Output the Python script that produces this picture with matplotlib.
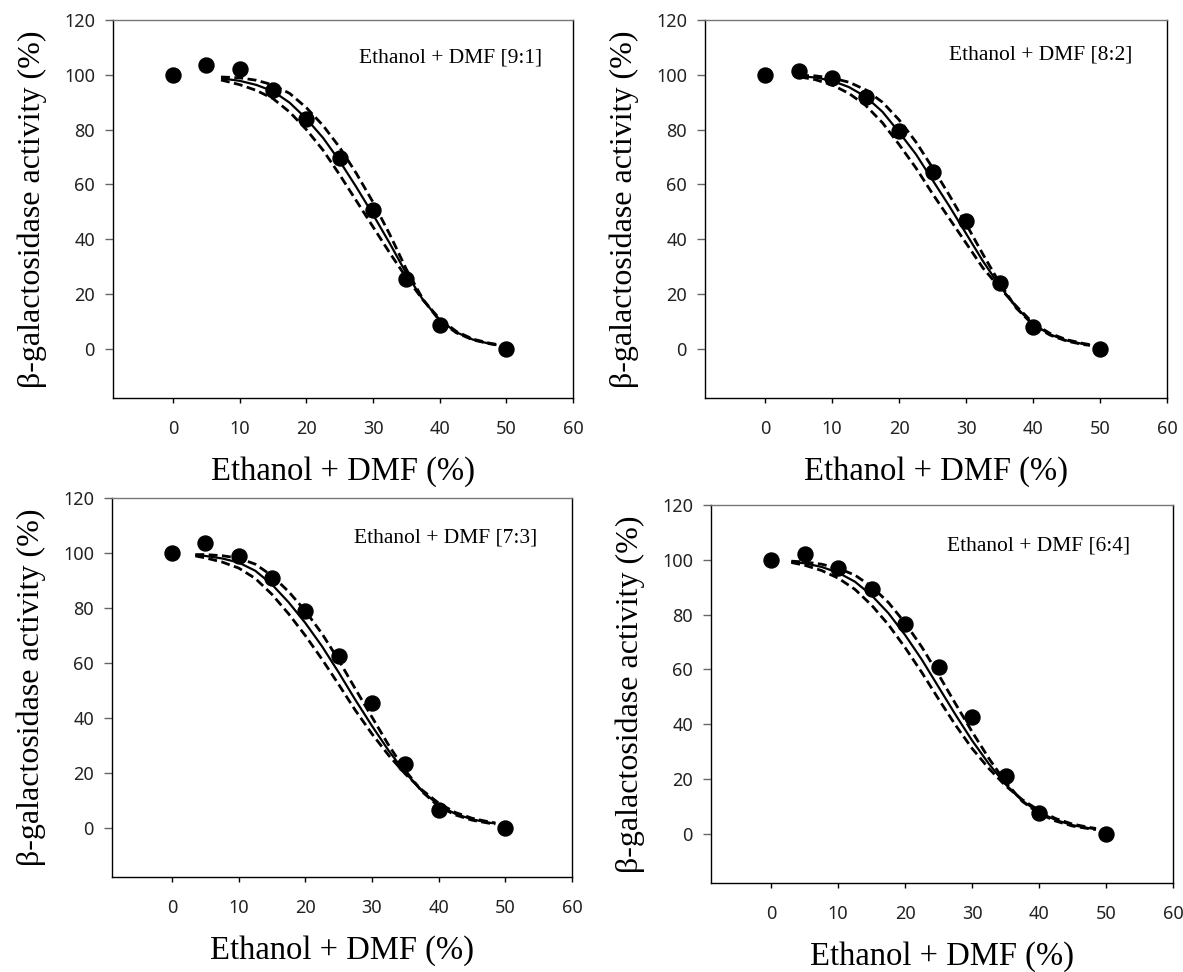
import matplotlib
matplotlib.use("Agg")
import matplotlib.pyplot as plt

# ---------------- data ----------------
conc = [0, 5, 10, 15, 20, 25, 30, 35, 40, 50]

act_91 = [100, 103.5, 102, 94.5, 84, 69.5, 50.5, 25.5, 8.5, 0]
act_82 = [100, 101.5, 99, 92, 79.5, 64.5, 46.5, 24, 8, 0]
act_73 = [100, 103.5, 99, 91, 79, 62.5, 45.5, 23, 6.5, 0]
act_64 = [100, 102, 97, 89.5, 76.5, 61, 42.5, 21, 7.5, 0]

# fitted curve (solid) and confidence bands (dashed)
fit_x_91 = [7.2, 10, 12.5, 15, 17.5, 20, 22.5, 25, 27.5, 30, 32.5, 35, 37.5, 40, 42.5, 45, 47.5, 48.5]
fit_91 = [98.7, 97.8, 96.3, 94.0, 89.8, 84.0, 77.0, 68.5, 59.0, 49.0, 38.5, 27.5, 17.8, 10.5, 6.0, 3.3, 1.8, 1.4]
upper_91 = [99.2, 98.9, 98.0, 96.3, 93.2, 88.0, 81.5, 73.5, 64.0, 53.5, 41.8, 29.0, 18.0, 10.2, 5.8, 3.2, 1.8, 1.4]
lower_91 = [98.1, 96.4, 94.3, 91.3, 86.4, 80.0, 72.5, 63.5, 54.0, 44.5, 35.0, 26.0, 17.8, 10.9, 6.3, 3.5, 2.0, 1.6]

fit_x_82 = [5.2, 7.5, 10, 12.5, 15, 17.5, 20, 22.5, 25, 27.5, 30, 32.5, 35, 37.5, 40, 42.5, 45, 47.5, 48.5]
fit_82 = [99.5, 99.0, 97.8, 95.5, 92.0, 86.5, 79.0, 71.0, 61.5, 52.0, 42.0, 32.0, 23.0, 15.0, 9.0, 5.2, 3.0, 1.7, 1.3]
upper_82 = [99.8, 99.6, 98.8, 97.3, 94.5, 90.0, 83.5, 75.5, 66.0, 56.0, 45.5, 34.5, 24.0, 14.8, 8.7, 5.0, 2.8, 1.5, 1.2]
lower_82 = [99.2, 98.2, 96.3, 93.2, 88.8, 82.5, 74.5, 66.0, 56.5, 47.5, 38.5, 29.5, 22.3, 15.5, 9.4, 5.6, 3.3, 1.9, 1.5]

fit_x_73 = [3.5, 5, 7.5, 10, 12.5, 15, 17.5, 20, 22.5, 25, 27.5, 30, 32.5, 35, 37.5, 40, 42.5, 45, 47.5, 48.5]
fit_73 = [99.2, 98.9, 98.0, 96.5, 93.5, 88.5, 82.0, 74.5, 66.0, 56.5, 46.5, 37.0, 28.0, 20.0, 13.3, 8.2, 5.0, 3.0, 1.8, 1.5]
upper_73 = [99.4, 99.4, 99.0, 98.1, 95.9, 91.7, 85.9, 78.9, 70.6, 61.0, 50.5, 40.2, 30.0, 20.8, 13.1, 7.7, 4.6, 2.7, 1.6, 1.3]
lower_73 = [98.9, 98.2, 96.7, 94.5, 90.7, 84.9, 77.8, 69.9, 61.3, 52.1, 42.7, 34.1, 26.3, 19.5, 13.7, 8.9, 5.5, 3.4, 2.1, 1.7]

fit_x_64 = [3.0, 5, 7.5, 10, 12.5, 15, 17.5, 20, 22.5, 25, 27.5, 30, 32.5, 35, 37.5, 40, 42.5, 45, 47.5, 48.5]
fit_64 = [99.3, 98.7, 97.4, 95.3, 92.0, 87.0, 80.5, 72.5, 63.5, 53.5, 43.5, 34.0, 25.5, 18.0, 12.0, 7.8, 5.0, 3.1, 2.0, 1.7]
upper_64 = [99.5, 99.2, 98.4, 96.9, 94.4, 90.2, 84.4, 76.9, 68.1, 58.0, 47.5, 37.2, 27.5, 18.8, 11.8, 7.3, 4.6, 2.8, 1.8, 1.5]
lower_64 = [99.0, 98.0, 96.1, 93.3, 89.2, 83.4, 76.3, 67.9, 58.8, 49.1, 39.7, 31.1, 23.8, 17.5, 12.4, 8.5, 5.5, 3.5, 2.3, 1.9]

panel_titles = ["Ethanol + DMF [9:1]", "Ethanol + DMF [8:2]",
                "Ethanol + DMF [7:3]", "Ethanol + DMF [6:4]"]
x_ticks = [0, 10, 20, 30, 40, 50, 60]
y_ticks = [0, 20, 40, 60, 80, 100, 120]
x_label = "Ethanol + DMF (%)"
y_label = "\u03b2-galactosidase activity (%)"

panels = [
    (act_91, fit_x_91, fit_91, upper_91, lower_91),
    (act_82, fit_x_82, fit_82, upper_82, lower_82),
    (act_73, fit_x_73, fit_73, upper_73, lower_73),
    (act_64, fit_x_64, fit_64, upper_64, lower_64),
]

# ---------------- layout ----------------
W, H = 1183, 972
boxes = [  # left, top, right, bottom in pixels
    (113, 20, 573, 398),
    (705, 20, 1167, 398),
    (112, 498, 572, 877),
    (711, 505, 1173, 883),
]
ann_pos = [(0.932, 0.887), (0.926, 0.896), (0.925, 0.882), (0.907, 0.880)]

serif = ["Liberation Serif", "DejaVu Serif"]
sans = ["Noto Sans", "DejaVu Sans"]

fig = plt.figure(figsize=(W / 100, H / 100), dpi=100)

for i, (act, fx, fy, fu, fl) in enumerate(panels):
    l, t, r, b = boxes[i]
    ax = fig.add_axes([l / W, (H - b) / H, (r - l) / W, (b - t) / H])
    ax.plot(fx, fy, color="black", lw=1.6, solid_capstyle="butt")
    ax.plot(fx, fu, color="black", lw=2.0, dashes=(3.2, 1.6))
    ax.plot(fx, fl, color="black", lw=2.0, dashes=(3.2, 1.6))
    ax.plot(conc, act, "o", color="black", ms=10.8, zorder=5)

    ax.set_xlim(-9, 60)
    ax.set_ylim(-18, 120)
    ax.set_xticks(x_ticks)
    ax.set_yticks(y_ticks)
    for lab in ax.get_xticklabels() + ax.get_yticklabels():
        lab.set_family(sans)
        lab.set_fontsize(13)
        lab.set_color("#222222")
    ax.tick_params(axis="x", direction="out", length=3.8, width=1.0,
                   color="black", pad=12)
    ax.tick_params(axis="y", direction="out", length=6, width=1.0,
                   color="#666666", pad=7)

    for side in ["left", "bottom", "right"]:
        ax.spines[side].set_color("black")
        ax.spines[side].set_linewidth(1.0)
    ax.spines["top"].set_color("#777777")
    ax.spines["top"].set_linewidth(1.0)

    ax.set_xlabel(x_label, family=serif, fontsize=23.5)
    ax.xaxis.label.set_va("baseline")
    ax.xaxis.set_label_coords(0.5, -0.217)
    ax.set_ylabel(y_label, family=serif, fontsize=23)
    ax.yaxis.label.set_va("baseline")
    ax.yaxis.set_label_coords(-0.159, 0.5)

    ax.text(ann_pos[i][0], ann_pos[i][1], panel_titles[i], transform=ax.transAxes,
            ha="right", va="baseline", family=serif, fontsize=15.5)

fig.savefig("out.png", dpi=100)
